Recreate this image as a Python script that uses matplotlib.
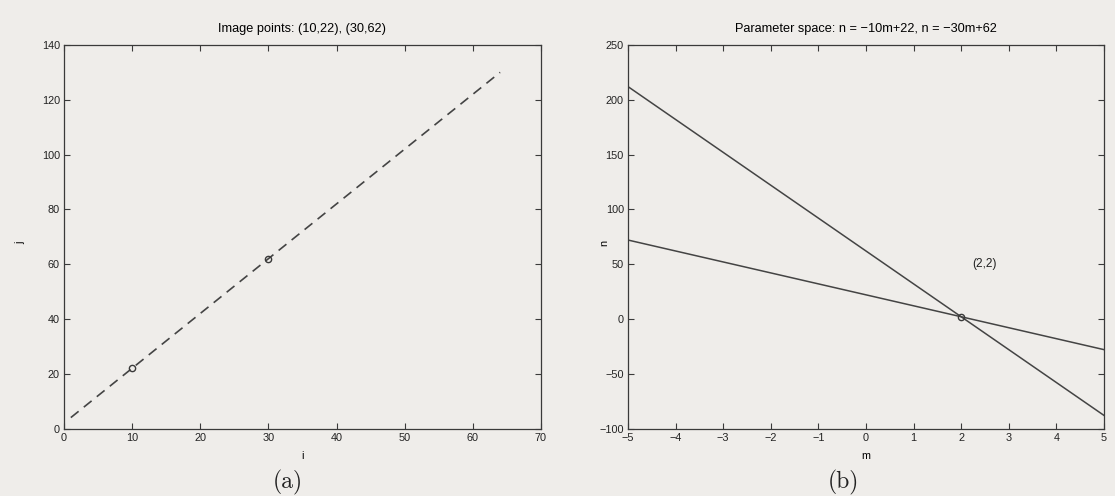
import numpy as np
import matplotlib
matplotlib.use('Agg')
import matplotlib.pyplot as plt

# image-space points and the line through them
img_pts_i = [10, 30]
img_pts_j = [22, 62]
line_i = np.arange(1, 65)

# parameter-space lines n = -x*m + y, one per image point
m_vals = [-5, 5]
meet_m = [2]
meet_n = [2]

bg = '#efedea'
ink = '#3a3a3a'
plt.rcParams['font.family'] = ['Liberation Sans', 'DejaVu Sans']
plt.rcParams['font.size'] = 7.8

fig = plt.figure(figsize=(11.15, 4.96), dpi=100, facecolor=bg)
axa = fig.add_axes([0.0574, 0.136, 0.4278, 0.7734], facecolor=bg)
axb = fig.add_axes([0.5632, 0.136, 0.4269, 0.7734], facecolor=bg)

# slope/intercept from the two points
slope = (img_pts_j[1] - img_pts_j[0]) / (img_pts_i[1] - img_pts_i[0])
icpt = img_pts_j[0] - slope * img_pts_i[0]
axa.plot(line_i, slope * line_i + icpt, color='#444444', lw=1.2, dashes=(6, 4))
axa.plot(img_pts_i, img_pts_j, 'o', mfc='none', mec=ink, ms=4.5, mew=1.0)
axa.set_xlim(0, 70)
axa.set_ylim(0, 140)
axa.set_xticks(range(0, 71, 10))
axa.set_yticks(range(0, 141, 20))
axa.set_title('Image points: (10,22), (30,62)', fontsize=9.2, pad=9)
axa.set_xlabel('i', labelpad=6)
axa.set_ylabel('j')
axa.yaxis.set_label_coords(-0.082, 0.484)

mm = np.array(m_vals)
for x, y in zip(img_pts_i, img_pts_j):
    axb.plot(mm, -x * mm + y, color='#444444', lw=1.1)
axb.plot(meet_m, meet_n, 'o', mfc='none', mec=ink, ms=4.5, mew=1.0)
axb.text(2.5, 50, '(2,2)', ha='center', va='center', color='#222222', fontsize=8.6)
axb.set_xlim(-5, 5)
axb.set_ylim(-100, 250)
axb.set_xticks(range(-5, 6))
axb.set_yticks(range(-100, 251, 50))
axb.set_title('Parameter space: n = \u221210m+22, n = \u221230m+62', fontsize=9.2, pad=9)
axb.set_xlabel('m', labelpad=6)
axb.set_ylabel('n')
axb.yaxis.set_label_coords(-0.040, 0.484)

for ax in (axa, axb):
    ax.tick_params(direction='in', top=True, right=True, length=4, width=0.8,
                   colors=ink, labelcolor='#222222', pad=3)
    for s in ax.spines.values():
        s.set_color(ink)
        s.set_linewidth(0.9)

fig.text(0.258, 0.028, '(a)', ha='center', va='center', fontsize=17,
         family=['cmr10', 'DejaVu Serif'], color='#222222')
fig.text(0.756, 0.028, '(b)', ha='center', va='center', fontsize=17,
         family=['cmr10', 'DejaVu Serif'], color='#222222')

fig.savefig('out.png', dpi=100, facecolor=bg)
